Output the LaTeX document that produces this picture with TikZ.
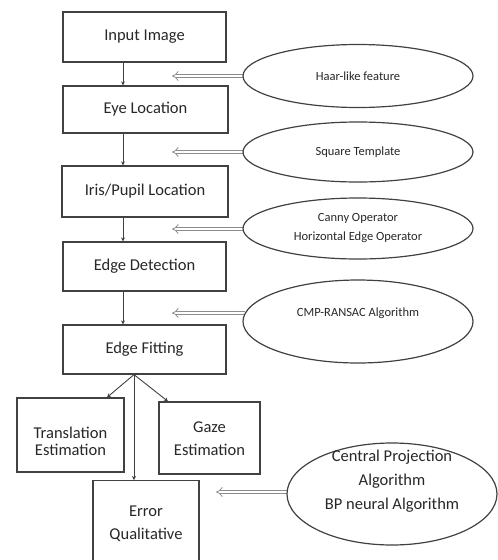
\documentclass[tikz,border=0pt]{standalone}
\usepackage{fontspec}
\setmainfont{Carlito}
\usetikzlibrary{arrows.meta,shapes.geometric}
\definecolor{linegray}{RGB}{65,65,65}
\definecolor{textgray}{RGB}{40,40,40}
\definecolor{hollowgray}{RGB}{140,140,140}
\begin{document}
\begin{tikzpicture}[x=1pt,y=-1pt,
  stage/.style={draw=linegray, line width=1.2pt, fill=white, inner sep=0pt,
                font=\fontsize{16.5}{20}\selectfont, text=textgray, align=center},
  stagetext/.style={font=\fontsize{16.5}{20}\selectfont, text=textgray, align=center, inner sep=0pt},
  oval/.style={ellipse, draw=linegray, line width=1.2pt, fill=white, inner sep=0pt,
               font=\fontsize{12.5}{19}\selectfont, text=textgray, align=center},
  ovaltext/.style={text=textgray, align=center, inner sep=0pt},
  flow/.style={draw=linegray, line width=0.9pt, -{Stealth[length=4pt,width=4pt]}},
  feed/.style={draw=hollowgray, line width=0.8pt, double=white, double distance=2.6pt,
               -{Implies}}
]
\useasboundingbox (0,0) rectangle (498,560);
\clip (0,0) rectangle (498,560);

% helper positions
\coordinate (spine) at (123,0);
\coordinate (tipx) at (172,0);
\coordinate (tipc) at (216,0);
\coordinate (forkx) at (134,0);

% main pipeline
\node[stage, minimum width=163pt, minimum height=50pt] (input)   at (144.5,37)    {Input Image};
\node[stage, minimum width=165pt, minimum height=47pt] (eye)     at (145.5,109.5) {Eye Location};
\node[stage, minimum width=166pt, minimum height=51pt] (iris)    at (145,191.5)   {Iris/Pupil Location};
\node[stage, minimum width=163pt, minimum height=49pt] (edgedet) at (144.5,266.5) {Edge Detection};
\node[stage, minimum width=163pt, minimum height=49pt] (edgefit) at (144.5,349.5) {Edge Fitting};

% output stages
\node[stage, minimum width=107pt, minimum height=74pt] (trans) at (70.5,435) {};
\node[stagetext] (transtxt) at (70.5,441.5) {Translation\\[-3pt]Estimation};
\node[stage, minimum width=101pt, minimum height=72pt] (gaze) at (209.5,438) {};
\node[stagetext] (gazetxt) at (209.5,438.5) {Gaze\\[3pt]Estimation};
\node[stage, minimum width=106pt, minimum height=100pt, anchor=north] (err) at (146,480) {};
\node[stagetext] (errtxt) at (146,523.5) {Error\\[3pt]Qualitative};

% methods feeding each stage
\draw[feed] (243,76) coordinate (haarport) -- (haarport -| tipx);
\draw[feed] (243,152) coordinate (sqport) -- (sqport -| tipx);
\draw[feed] (243,229) coordinate (cannyport) -- (cannyport -| tipx);
\draw[feed] (245,313) coordinate (cmpport) -- (cmpport -| tipx);
\draw[feed] (288,492) coordinate (cpport) -- (cpport -| tipc);

\node[oval, minimum width=230pt, minimum height=63pt] (haar)  at (358,76)    {Haar-like feature};
\node[oval, minimum width=230pt, minimum height=60pt] (square) at (358,152)  {Square Template};
\node[oval, minimum width=230pt, minimum height=61pt] (canny) at (358,228.5) {Canny Operator\\Horizontal Edge Operator};
\node[oval, minimum width=230pt, minimum height=83pt] (cmp)   at (358,321.5) {};
\node[ovaltext, font=\fontsize{12.5}{19}\selectfont] (cmptxt) at (358,313) {CMP-RANSAC Algorithm};
\node[oval, minimum width=210pt, minimum height=102pt] (central) at (392,494) {};
\node[ovaltext, font=\fontsize{16.5}{24}\selectfont] (centraltxt) at (392,481)
  {Central Projection\\Algorithm\\BP neural Algorithm};

% pipeline connectors
\draw[flow] (input.south -| spine)   -- (eye.north -| spine);
\draw[flow] (eye.south -| spine)     -- (iris.north -| spine);
\draw[flow] (iris.south -| spine)    -- (edgedet.north -| spine);
\draw[flow] (edgedet.south -| spine) -- (edgefit.north -| spine);

% branching after edge fitting
\coordinate (fork) at (edgefit.south -| forkx);
\draw[flow] (fork) -- ([xshift=36.5pt]trans.north);
\draw[flow] (fork) -- ([xshift=-41.5pt]gaze.north);
\draw[flow] (fork) -- (err.north -| fork);
\end{tikzpicture}
\end{document}
